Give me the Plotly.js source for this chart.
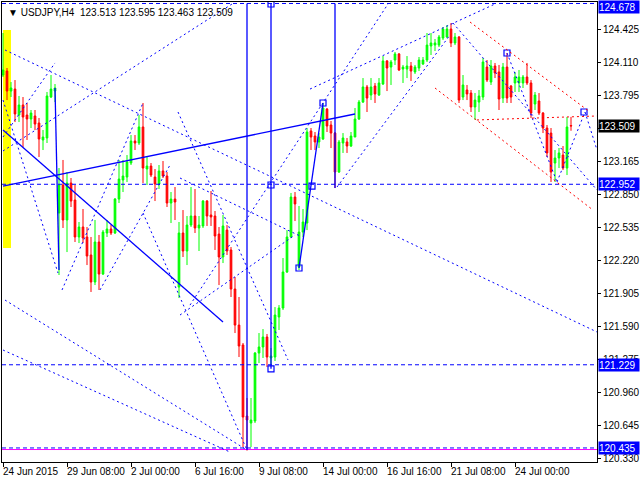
<!DOCTYPE html>
<html><head><meta charset="utf-8">
<script src="https://cdn.plot.ly/plotly-3.0.1.min.js"></script>
<style>html,body{margin:0;padding:0;background:#fff}#chart{width:640px;height:480px}</style>
</head><body><div id="chart"></div>
<script>
// H4 bars, index 0 = 24 Jun 2015 16:00
const openP = [123.995,124.033,123.842,123.861,123.613,123.709,123.613,123.575,123.604,123.537,
123.375,123.394,123.785,123.842,122.678,122.945,122.611,122.964,122.802,122.449,
122.544,122.449,122.277,122.019,122.401,122.095,122.487,122.525,122.487,122.811,
122.993,123.021,123.155,123.365,123.346,123.499,123.098,123.126,123.021,122.955,
123.079,123.031,122.773,122.811,121.971,122.487,122.315,122.563,122.649,122.535,
122.554,122.792,122.659,122.649,122.477,122.258,122.515,122.325,121.952,121.608,
121.418,120.740,120.673,120.692,121.341,121.399,121.494,121.294,121.303,121.685,
121.771,122.115,122.449,122.830,122.162,122.496,122.582,123.461,123.413,123.356,
123.384,123.670,123.518,123.441,123.069,123.346,123.356,123.317,123.403,123.575,
123.737,123.881,123.804,123.890,123.804,123.909,124.129,124.071,124.138,124.196,
124.052,124.052,124.081,124.024,124.062,124.100,124.138,124.272,124.281,124.281,
124.348,124.358,124.434,124.301,124.358,123.785,123.852,123.823,123.690,123.737,
123.785,124.071,123.928,124.081,124.024,123.775,124.071,123.890,123.919,123.919,
123.919,123.976,123.919,123.718,123.747,123.632,123.489,123.441,123.155,123.203,
123.231,123.107,123.513];
const highP = [124.396,124.062,123.928,123.947,123.795,123.785,123.728,123.661,123.661,123.585,
123.470,123.833,123.995,123.909,123.107,123.184,123.069,123.012,122.945,122.592,
122.716,122.544,122.449,122.611,122.468,122.515,122.611,122.563,122.821,123.184,
123.184,123.231,123.422,123.422,123.613,123.728,123.212,123.155,123.098,123.136,
123.174,123.069,122.878,122.926,122.592,122.706,122.649,122.926,122.907,122.649,
122.802,122.802,122.888,122.697,122.544,122.659,122.563,122.353,122.067,121.876,
121.437,120.912,120.912,121.351,121.532,121.570,121.523,121.389,121.780,121.799,
122.248,122.515,122.869,122.878,122.745,122.716,123.489,123.489,123.451,123.441,
123.728,123.680,123.556,123.451,123.375,123.441,123.394,123.451,123.680,123.756,
123.966,123.900,123.966,123.919,123.966,124.176,124.138,124.138,124.215,124.205,
124.091,124.176,124.119,124.091,124.167,124.167,124.396,124.396,124.339,124.377,
124.453,124.472,124.491,124.396,124.367,123.995,123.900,123.852,123.823,123.852,
124.157,124.138,124.138,124.110,124.091,124.110,124.205,123.900,124.024,124.043,
123.995,124.110,123.947,123.833,123.823,123.642,123.518,123.489,123.279,123.298,
123.317,123.594,123.595];
const lowP = [123.976,123.756,123.785,123.546,123.546,123.308,123.375,123.489,123.470,123.212,
123.279,123.346,123.775,123.737,122.086,122.535,122.305,122.735,122.401,122.391,
122.391,122.181,121.924,121.990,121.943,122.086,122.449,122.468,122.477,122.773,
122.878,122.974,123.136,123.279,123.327,122.964,122.945,123.021,122.792,122.907,
123.012,122.735,122.582,122.611,121.866,122.258,122.181,122.544,122.487,122.315,
122.535,122.554,122.554,122.325,121.990,122.200,122.277,121.876,121.532,121.303,
120.444,120.410,120.444,120.673,121.246,121.294,121.208,121.229,121.265,121.561,
121.752,122.105,122.439,122.601,122.134,122.449,122.515,123.279,123.279,123.298,
123.375,123.451,123.298,122.916,123.060,123.251,123.251,123.308,123.403,123.566,
123.728,123.642,123.756,123.728,123.795,123.900,123.842,123.900,124.091,124.033,
123.919,123.966,123.938,124.005,124.033,124.091,124.119,124.186,124.224,124.262,
124.329,124.348,124.262,124.281,123.728,123.756,123.756,123.642,123.566,123.642,
123.756,123.928,123.900,123.966,123.661,123.728,123.728,123.728,123.833,123.833,
123.871,123.900,123.585,123.661,123.613,123.441,123.212,122.974,122.974,123.107,
123.088,123.040,123.463];
const closeP = [124.043,123.842,123.871,123.623,123.709,123.594,123.575,123.632,123.527,123.384,
123.403,123.795,123.861,123.871,122.945,122.611,122.964,122.792,122.449,122.544,
122.439,122.267,122.019,122.401,122.095,122.496,122.525,122.487,122.811,123.002,
123.031,123.165,123.365,123.346,123.499,123.107,123.126,123.040,122.955,123.079,
123.031,122.773,122.811,122.783,122.487,122.315,122.563,122.649,122.535,122.563,
122.792,122.649,122.640,122.458,122.258,122.554,122.315,121.952,121.608,121.408,
120.730,120.702,120.702,121.341,121.399,121.494,121.303,121.313,121.704,121.771,
122.115,122.449,122.830,122.764,122.496,122.592,123.451,123.403,123.356,123.403,
123.680,123.508,123.441,123.069,123.356,123.394,123.317,123.413,123.575,123.737,
123.881,123.775,123.881,123.814,123.919,124.129,124.062,124.119,124.196,124.043,
124.071,124.081,124.033,124.071,124.138,124.138,124.281,124.301,124.301,124.358,
124.434,124.434,124.301,124.358,123.756,123.900,123.814,123.690,123.756,123.795,
124.119,123.947,124.081,124.014,123.766,124.071,123.775,123.785,123.976,123.976,
123.976,123.919,123.632,123.804,123.632,123.489,123.251,123.069,123.203,123.251,
123.107,123.499,123.509];

const xTickBars = [0,16,32,48,64,80,96,112,128];
const xTickLabels = ['24 Jun 2015','29 Jun 08:00','2 Jul 00:00','6 Jul 16:00','9 Jul 08:00','14 Jul 00:00','16 Jul 16:00','21 Jul 08:00','24 Jul 00:00'];
const yTickValues = [124.425,124.110,123.795,123.480,123.165,122.850,122.535,122.220,121.905,121.590,121.275,120.960,120.645,120.330];
const yTickHidden = [123.480]; // fully covered by the bid price box in the reference

const headerText = 'USDJPY,H4  123.513 123.595 123.463 123.509';
const bidPrice = 123.509;
const levelPrices = [124.678, 122.952, 121.229, 120.435];
const magentaLevel = 120.42;
// vertical lines: [bar, fromPrice, toPrice]
const verticalLines = [[61,120.415,124.678],[67,121.19,124.678],[83,122.916,124.678]];
// trend lines: [bar0, price0, bar1, price1]
const solidLines = [[0,122.935,88,123.623],[0,123.470,55,121.637],[13,123.871,14,122.134],[74,122.153,80,123.728]];
const blueDotLines = [
 [0.5,124.234,148.5,121.542],[0,123.270,57.25,124.673],[0,123.403,13,124.110],[0,123.756,13.75,122.105],
 [76.75,123.861,123,124.673],[46.75,121.799,96.25,124.673],[83.5,122.926,111.75,124.377],
 [0.5,121.847,61,120.415],[0,121.370,56.75,120.396],[35,122.678,61,120.415],[43.75,123.642,71.25,121.275],
 [44.25,123.012,74.25,122.458],[14.75,121.943,35,123.728],
 [44.25,121.704,73,122.468],[24.25,121.943,41.75,123.136],
 [112.5,124.491,148.5,122.897],[126,124.205,138.5,122.974],[138.5,122.974,145.5,123.642],[145.5,123.642,148.5,123.279]
];
const redDotLines = [[116.75,124.501,146.75,123.642],[108,123.871,147.5,122.706],[118.5,123.566,148.5,123.604]];
const markerBars = [67,67,67,74,77.25,80,145.25,126];
const markerPrices = [124.673,122.945,121.19,122.153,122.935,123.728,123.642,124.205];
const yellowBox = [0,2,122.344,124.425];

const bars = openP.map((_, i) => i);
const BLUE = '#0000ff';
const shapes = [];
shapes.push({type:'rect',xref:'x',yref:'y',x0:yellowBox[0],x1:yellowBox[1],y0:yellowBox[2],y1:yellowBox[3],fillcolor:'#ffff00',line:{width:0},layer:'below'});
levelPrices.forEach(p => shapes.push({type:'line',xref:'paper',yref:'y',x0:0,x1:1,y0:p,y1:p,line:{color:BLUE,width:1,dash:'4px,3px'}}));
shapes.push({type:'line',xref:'paper',yref:'y',x0:0,x1:1,y0:magentaLevel,y1:magentaLevel,line:{color:'#ff00ff',width:1}});
verticalLines.forEach(v => shapes.push({type:'line',xref:'x',yref:'y',x0:v[0],x1:v[0],y0:v[1],y1:v[2],line:{color:BLUE,width:1.3}}));
solidLines.forEach(l => shapes.push({type:'line',xref:'x',yref:'y',x0:l[0],y0:l[1],x1:l[2],y1:l[3],line:{color:BLUE,width:1.3}}));
blueDotLines.forEach(l => shapes.push({type:'line',xref:'x',yref:'y',x0:l[0],y0:l[1],x1:l[2],y1:l[3],line:{color:BLUE,width:1,dash:'2px,3px'}}));
redDotLines.forEach(l => shapes.push({type:'line',xref:'x',yref:'y',x0:l[0],y0:l[1],x1:l[2],y1:l[3],line:{color:'#ff0000',width:1,dash:'2px,3px'}}));

const fam = 'Liberation Sans, Arial, sans-serif';
const font = {family:fam, size:10, color:'#000'};
const boxFont = {family:fam, size:10, color:'#fff'};
const annotations = [];
annotations.push({xref:'paper',yref:'paper',x:0,y:1,xanchor:'left',yanchor:'top',xshift:4,yshift:-3,showarrow:false,
  text:'\u25BC\u00a0'+headerText.replace(/ /g,'\u00a0'),font:font});
xTickBars.forEach((b, k) => annotations.push({xref:'x',yref:'paper',x:b,y:0,xanchor:'left',yanchor:'top',xshift:-2,yshift:-2,
  showarrow:false,text:xTickLabels[k].replace(/ /g,'\u00a0'),font:font}));
levelPrices.forEach((p, k) => {
  const a = {xref:'paper',yref:'y',x:1,y:p,xanchor:'left',yanchor:'middle',xshift:1,showarrow:false,
    text:p.toFixed(3),bgcolor:BLUE,font:boxFont,width:40,height:12,borderpad:0,align:'left'};
  if (k === 0) { a.yref = 'paper'; a.y = 1; a.yanchor = 'top'; a.yshift = 2; }
  annotations.push(a);
});
annotations.push({xref:'paper',yref:'y',x:1,y:bidPrice,xanchor:'left',yanchor:'middle',xshift:1,showarrow:false,
  text:bidPrice.toFixed(3),bgcolor:'#000',font:boxFont,width:40,height:12,borderpad:0,align:'left'});

const data = [
 {type:'candlestick',x:bars,open:openP,high:highP,low:lowP,close:closeP,whiskerwidth:0,hoverinfo:'skip',
  increasing:{line:{color:'#00ff00',width:1},fillcolor:'#00ff00'},
  decreasing:{line:{color:'#ff0000',width:1},fillcolor:'#ff0000'}},
 {type:'scatter',mode:'markers',x:markerBars,y:markerPrices,hoverinfo:'skip',
  marker:{symbol:'square-open',size:6,color:BLUE,line:{width:1.2,color:BLUE}}}
];
const layout = {
 width:640,height:480,margin:{l:2,r:43,t:2,b:18},paper_bgcolor:'#fff',plot_bgcolor:'#fff',showlegend:false,
 boxgap:0.4,
 xaxis:{range:[-0.25,148.5],tickvals:xTickBars,showticklabels:false,ticks:'outside',ticklen:4,tickcolor:'#000',
  showgrid:false,zeroline:false,showline:true,linecolor:'#000',linewidth:1,mirror:true,
  rangeslider:{visible:false},fixedrange:true},
 yaxis:{side:'right',range:[120.301,124.692],tickvals:yTickValues,
  ticktext:yTickValues.map(v=>yTickHidden.includes(v)?'':v.toFixed(3)),
  ticks:'outside',ticklen:3,tickcolor:'#000',showgrid:false,zeroline:false,showline:true,linecolor:'#000',linewidth:1,mirror:true,
  tickfont:font,fixedrange:true},
 shapes:shapes,annotations:annotations
};
Plotly.newPlot('chart',data,layout,{displayModeBar:false,staticPlot:true});
</script></body></html>
